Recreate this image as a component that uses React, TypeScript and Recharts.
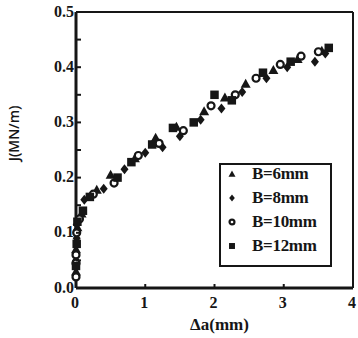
import React from 'react';
import { ScatterChart, Scatter, XAxis, YAxis, ReferenceLine, Legend } from 'recharts';

const INK = '#161616';
const FONT = '"Liberation Serif", "Times New Roman", serif';

// Δa (mm) and J (MN/m)
const b6Da = [0, 0, 0.02, 0.08, 0.3, 0.5, 0.85, 1.15, 1.45, 1.85, 2.15, 2.45, 2.85, 3.2, 3.55];
const b6J = [0.03, 0.07, 0.11, 0.135, 0.178, 0.205, 0.235, 0.272, 0.292, 0.32, 0.345, 0.37, 0.395, 0.415, 0.43];

const b8Da = [0, 0.01, 0.01, 0.12, 0.4, 0.7, 1.0, 1.25, 1.5, 1.8, 2.1, 2.4, 2.75, 3.05, 3.45, 3.6];
const b8J = [0.05, 0.09, 0.115, 0.16, 0.18, 0.215, 0.245, 0.255, 0.275, 0.305, 0.325, 0.355, 0.38, 0.4, 0.41, 0.425];

const b10Da = [0, 0, 0, 0.01, 0.05, 0.25, 0.55, 0.9, 1.2, 1.55, 1.95, 2.3, 2.6, 2.95, 3.25, 3.5];
const b10J = [0.02, 0.045, 0.06, 0.1, 0.125, 0.17, 0.19, 0.24, 0.262, 0.285, 0.33, 0.35, 0.38, 0.405, 0.42, 0.428];

const b12Da = [0, 0.01, 0.02, 0.1, 0.2, 0.6, 0.8, 1.1, 1.4, 1.7, 2.0, 2.25, 2.7, 3.1, 3.65];
const b12J = [0.04, 0.08, 0.12, 0.14, 0.165, 0.2, 0.228, 0.26, 0.29, 0.3, 0.35, 0.34, 0.39, 0.41, 0.435];

const seriesNames = ['B=6mm', 'B=8mm', 'B=10mm', 'B=12mm'];
const markerKinds = ['triangle', 'diamond', 'circle', 'square'];

const xTicks = [0, 1, 2, 3, 4];
const yTicks = [0, 0.05, 0.1, 0.15, 0.2, 0.25, 0.3, 0.35, 0.4, 0.45, 0.5];
const yMajor = [0, 0.1, 0.2, 0.3, 0.4, 0.5];

const toPoints = (da: number[], j: number[]) => da.map((x, i) => ({ x, y: j[i] }));
const series = [
  toPoints(b6Da, b6J),
  toPoints(b8Da, b8J),
  toPoints(b10Da, b10J),
  toPoints(b12Da, b12J),
];

const textStyle = { fontFamily: FONT, fontWeight: 700, fill: INK } as const;

function Marker({ kind, cx, cy, r }: { kind: string; cx: number; cy: number; r: number }) {
  if (kind === 'triangle') {
    return <polygon points={`${cx},${cy - r} ${cx + r},${cy + r * 0.8} ${cx - r},${cy + r * 0.8}`} fill={INK} />;
  }
  if (kind === 'diamond') {
    return <polygon points={`${cx},${cy - r} ${cx + r * 0.8},${cy} ${cx},${cy + r} ${cx - r * 0.8},${cy}`} fill={INK} />;
  }
  if (kind === 'circle') {
    return <circle cx={cx} cy={cy} r={r * 0.7} fill="#fff" stroke={INK} strokeWidth={2.2} />;
  }
  return <rect x={cx - r * 0.85} y={cy - r * 0.85} width={r * 1.7} height={r * 1.7} fill={INK} />;
}

const Y_MARGIN = 5;
const X_MARGIN = 9;

function YTick(props: any) {
  const { x, y, payload } = props;
  const ax = x + Y_MARGIN;
  const major = yMajor.some((v) => Math.abs(v - payload.value) < 1e-6);
  return (
    <g>
      <line x1={ax} x2={ax + 5} y1={y} y2={y} stroke={INK} strokeWidth={2} />
      {major && (
        <text x={ax - 2} y={y - 1} dy="0.35em" textAnchor="end" style={{ ...textStyle, fontSize: 16 }}>
          {payload.value.toFixed(1)}
        </text>
      )}
    </g>
  );
}

function XTick(props: any) {
  const { x, y, payload } = props;
  const ay = y - X_MARGIN;
  return (
    <g>
      {payload.value > 0 && payload.value < 4 && (
        <line x1={x} x2={x} y1={ay} y2={ay - 4} stroke={INK} strokeWidth={2} />
      )}
      <text x={x - 1} y={y} dy="0.71em" textAnchor="middle" style={{ ...textStyle, fontSize: 16 }}>
        {payload.value}
      </text>
    </g>
  );
}

function YTitle(props: any) {
  const { viewBox } = props;
  const cx = 14;
  const cy = viewBox.y + viewBox.height * 0.44;
  return (
    <text x={cx} y={cy} transform={`rotate(-90, ${cx}, ${cy})`} textAnchor="middle" dy="0.35em"
      style={{ ...textStyle, fontFamily: '"Open Sans", "Liberation Sans", sans-serif', fontWeight: 600, fontSize: 14 }}>
      J(MN/m)
    </text>
  );
}

function XTitle(props: any) {
  const { viewBox } = props;
  const cx = viewBox.x + viewBox.width / 2 + 5;
  return (
    <text x={cx} y={324} dy="0.35em" textAnchor="middle" style={{ ...textStyle, fontSize: 17 }}>
      Δa(mm)
    </text>
  );
}

function LegendBox() {
  return (
    <div style={{ boxSizing: 'border-box', width: 113, height: 104, border: `2px solid ${INK}`, background: '#fff' }}>
      <div style={{ position: 'relative', top: -3 }}>
        {seriesNames.map((name, i) => (
          <div key={name} style={{ display: 'flex', alignItems: 'center', height: 24 }}>
            <svg width={22} height={24}>
              <Marker kind={markerKinds[i]} cx={11} cy={12} r={3.5} />
            </svg>
            <span style={{ marginLeft: 9, fontFamily: FONT, fontWeight: 700, fontSize: 17, color: INK, lineHeight: '24px', letterSpacing: -0.3 }}>{name}</span>
          </div>
        ))}
      </div>
    </div>
  );
}

export default function App() {
  return (
    <div style={{ position: 'absolute', left: 0, top: 0, background: '#fff' }}>
      <ScatterChart width={358} height={338} margin={{ top: 12, right: 5, left: 0, bottom: 0 }}>
        <XAxis
          type="number"
          dataKey="x"
          domain={[0, 4]}
          ticks={xTicks}
          height={50}
          tickSize={0}
          tickMargin={X_MARGIN}
          tick={<XTick />}
          axisLine={{ stroke: INK, strokeWidth: 3 }}
          label={<XTitle />}
        />
        <YAxis
          type="number"
          dataKey="y"
          domain={[0, 0.5]}
          ticks={yTicks}
          width={76}
          tickSize={0}
          tickMargin={Y_MARGIN}
          tick={<YTick />}
          axisLine={{ stroke: INK, strokeWidth: 3 }}
          label={<YTitle />}
        />
        <ReferenceLine y={0.5} stroke={INK} strokeWidth={2} />
        <ReferenceLine x={4} stroke={INK} strokeWidth={2} />
        <Legend
          layout="vertical"
          align="center"
          verticalAlign="middle"
          content={() => <LegendBox />}
          wrapperStyle={{ left: 219, top: 163, width: 113, height: 104 }}
        />
        {series.map((data, i) => (
          <Scatter
            key={seriesNames[i]}
            name={seriesNames[i]}
            data={data}
            isAnimationActive={false}
            shape={(p: any) => <Marker kind={markerKinds[i]} cx={p.cx} cy={p.cy} r={5} />}
          />
        ))}
      </ScatterChart>
    </div>
  );
}
